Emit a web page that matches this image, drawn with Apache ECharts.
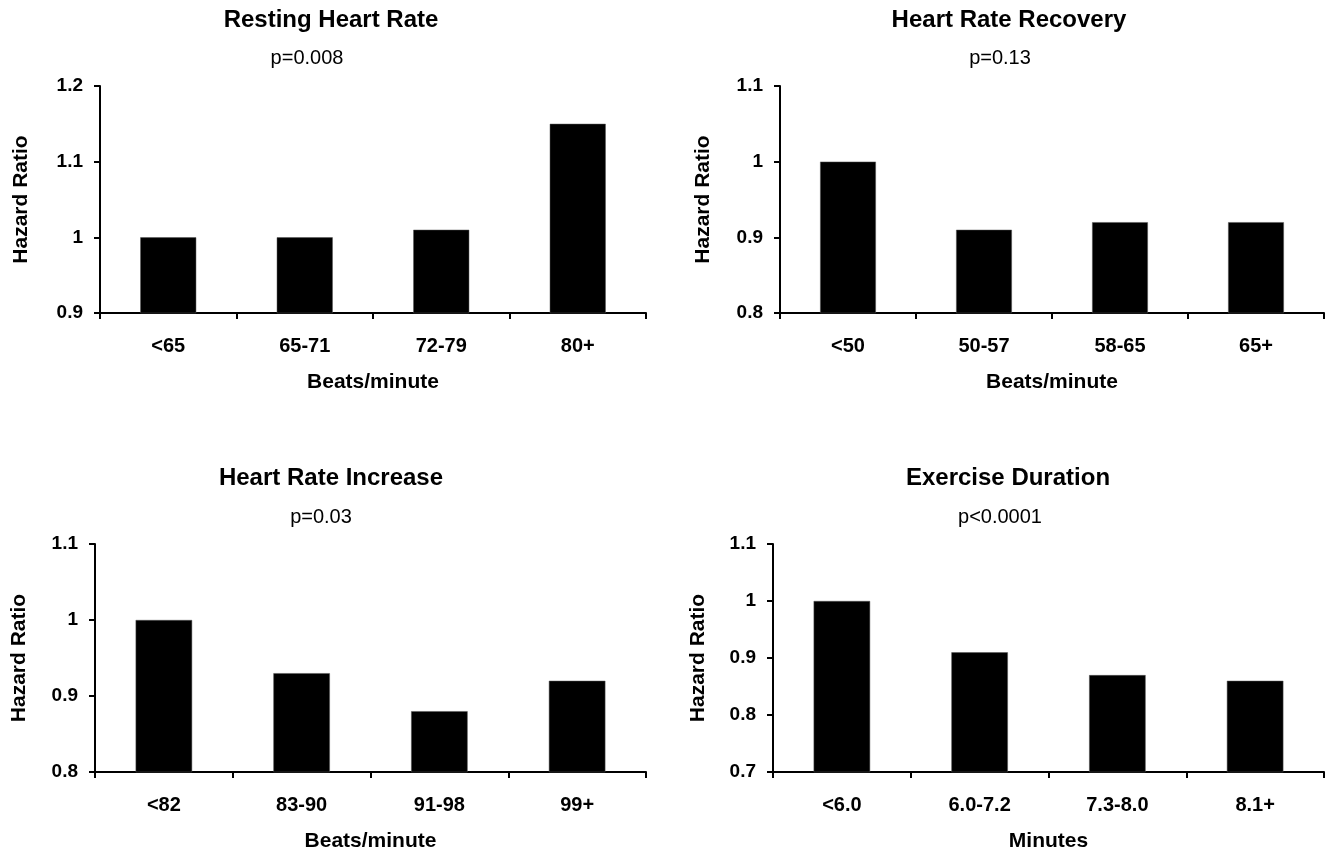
<!DOCTYPE html>
<html>
<head>
<meta charset="utf-8">
<title>Hazard Ratio</title>
<script src="https://cdn.jsdelivr.net/npm/echarts@6/dist/echarts.min.js"></script>
<style>
html, body { margin: 0; padding: 0; background: #fff; }
#echart { width: 1334px; height: 854px; }
</style>
</head>
<body>
<div id="echart"></div>
<script>
// panel titles and p values
var titles = ['Resting Heart Rate', 'Heart Rate Recovery', 'Heart Rate Increase', 'Exercise Duration'];
var pValues = ['p=0.008', 'p=0.13', 'p=0.03', 'p<0.0001'];
var xNames = ['Beats/minute', 'Beats/minute', 'Beats/minute', 'Minutes'];

// categories
var restingCats = ['<65', '65-71', '72-79', '80+'];
var recoveryCats = ['<50', '50-57', '58-65', '65+'];
var increaseCats = ['<82', '83-90', '91-98', '99+'];
var durationCats = ['<6.0', '6.0-7.2', '7.3-8.0', '8.1+'];

// hazard ratios
var restingHR = [1.00, 1.00, 1.01, 1.15];
var recoveryHR = [1.00, 0.91, 0.92, 0.92];
var increaseHR = [1.00, 0.93, 0.88, 0.92];
var durationHR = [1.00, 0.91, 0.87, 0.86];

// y axis ranges
var yMins = [0.9, 0.8, 0.8, 0.7];
var yMaxs = [1.2, 1.1, 1.1, 1.1];

var cats = [restingCats, recoveryCats, increaseCats, durationCats];
var vals = [restingHR, recoveryHR, increaseHR, durationHR];

var FONT = '"Liberation Sans", Arial, Helvetica, sans-serif';

// layout of each panel
var grids = [
	{ left: 100, top: 86, width: 546, height: 227 },
	{ left: 780, top: 86, width: 544, height: 227 },
	{ left: 95, top: 544, width: 551, height: 228 },
	{ left: 773, top: 544, width: 551, height: 228 }
];
var titlePos = [[331, 20], [1009, 20], [331, 478], [1008, 478]];
var pPos = [[307, 58], [1000, 58], [321, 517], [1000, 517]];
var yNameGap = [68, 66, 65, 64];

var myChart = echarts.init(document.getElementById('echart'));

var option = {
	animation: false,
	backgroundColor: '#fff',
	grid: [],
	xAxis: [],
	yAxis: [],
	series: [],
	graphic: []
};

for (var i = 0; i < 4; i++) {
	var g = grids[i];
	option.grid.push({
		left: g.left,
		top: g.top,
		width: g.width,
		height: g.height,
		outerBoundsMode: 'none',
		containLabel: false
	});
	option.xAxis.push({
		type: 'category',
		gridIndex: i,
		data: cats[i],
		boundaryGap: true,
		name: xNames[i],
		nameLocation: 'middle',
		nameGap: 59,
		nameTextStyle: { color: '#000', fontSize: 21, fontWeight: 'bold', fontFamily: FONT },
		axisLine: { show: true, lineStyle: { color: '#000', width: 2 } },
		axisTick: { show: true, length: 6, lineStyle: { color: '#000', width: 2 } },
		axisLabel: { color: '#000', fontSize: 20, fontWeight: 'bold', fontFamily: FONT, margin: 23 },
		splitLine: { show: false }
	});
	option.yAxis.push({
		type: 'value',
		gridIndex: i,
		min: yMins[i],
		max: yMaxs[i],
		interval: 0.1,
		name: 'Hazard Ratio',
		nameLocation: 'middle',
		nameGap: yNameGap[i],
		nameTextStyle: { color: '#000', fontSize: 21, fontWeight: 'bold', fontFamily: FONT },
		axisLine: { show: true, lineStyle: { color: '#000', width: 2 } },
		axisTick: { show: true, length: 6, lineStyle: { color: '#000', width: 2 } },
		axisLabel: {
			color: '#000', fontSize: 19, fontWeight: 'bold', fontFamily: FONT, margin: 17,
			formatter: function (value) {
				return String(Math.round(value * 10) / 10);
			}
		},
		splitLine: { show: false }
	});
	option.series.push({
		type: 'bar',
		xAxisIndex: i,
		yAxisIndex: i,
		data: vals[i],
		barWidth: '41%',
		itemStyle: { color: '#000', borderColor: '#555', borderWidth: 0.5 }
	});
	option.graphic.push({
		type: 'text',
		x: titlePos[i][0],
		y: titlePos[i][1],
		style: {
			text: titles[i],
			fill: '#000',
			fontSize: 24,
			fontWeight: 'bold',
			fontFamily: FONT,
			align: 'center',
			verticalAlign: 'middle'
		}
	});
	option.graphic.push({
		type: 'text',
		x: pPos[i][0],
		y: pPos[i][1],
		style: {
			text: pValues[i],
			fill: '#000',
			fontSize: 20,
			fontFamily: FONT,
			align: 'center',
			verticalAlign: 'middle'
		}
	});
}

myChart.setOption(option, true);
window.onresize = function() {
	myChart.resize();
};
</script>
</body>
</html>
